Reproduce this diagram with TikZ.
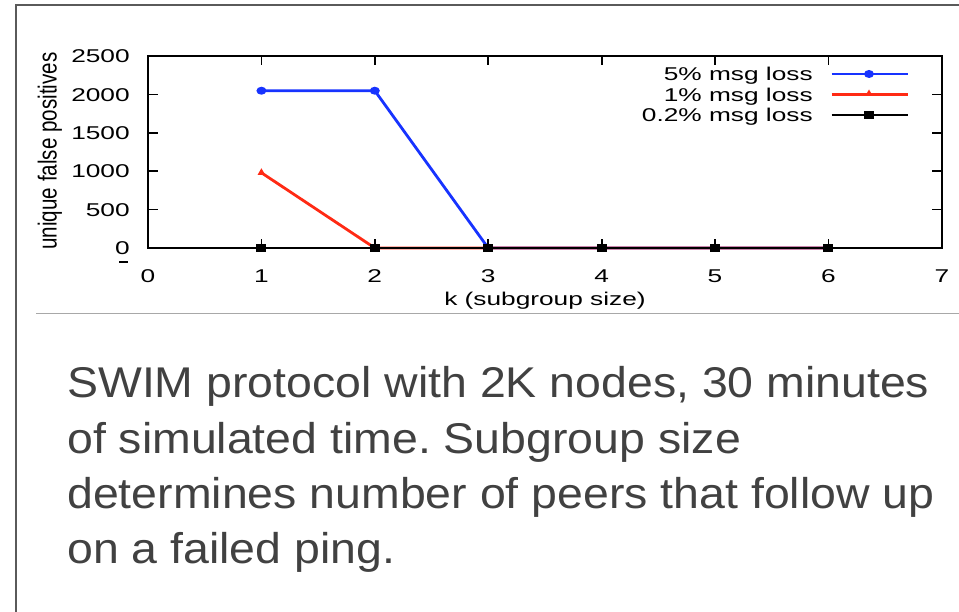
\documentclass[tikz,border=0pt]{standalone}
\usepackage{fontspec}
\setmainfont{Liberation Sans}
\usetikzlibrary{shapes.geometric}
\definecolor{framegray}{HTML}{5A5A5A}
\definecolor{rulegray}{HTML}{A8A8A8}
\definecolor{captiongray}{HTML}{414141}
\definecolor{serblue}{HTML}{1733FF}
\definecolor{serred}{HTML}{FF2A14}
\frenchspacing
\begin{document}
\begin{tikzpicture}[x=1pt,y=-1pt,
  plotlbl/.style={inner sep=0pt, font=\fontsize{18.5}{20}\selectfont, xscale=1.42},
  caplbl/.style={inner sep=0pt, anchor=base west, text=captiongray,
    font=\fontsize{43}{55}\selectfont, xscale=1.08},
  tickmark/.style={line width=1.8pt, black},
  bluedot/.style={ellipse, fill=serblue, inner sep=0pt, minimum width=10pt, minimum height=8pt},
  redtri/.style={regular polygon, regular polygon sides=3, fill=serred, inner sep=0pt, minimum size=9pt},
  blacksq/.style={rectangle, fill=black, inner sep=0pt, minimum width=10pt, minimum height=8pt},
  serline/.style={line width=2.8pt, line join=round}]
\useasboundingbox (0,0) rectangle (959,612);

% slide frame and separator rule
\draw[framegray, line width=2pt] (15.5,620) -- (15.5,5) -- (970,5);
\draw[rulegray, line width=1.5pt] (36,313.5) -- (970,313.5);

% plot frame
\coordinate (pNW) at (148,56);
\coordinate (pSE) at (941.8,248);
\draw[line width=2.2pt] (pNW) rectangle (pSE);

% inner tick marks
\foreach \v in {500,1000,1500,2000} {
  \draw[tickmark] (148,{248-0.0768*\v}) -- ++(10,0);
  \draw[tickmark] (941.8,{248-0.0768*\v}) -- ++(-10,0);
}
\foreach \k in {1,...,6} {
  \draw[tickmark] ({148+113.4*\k},56) -- ++(0,9);
  \draw[tickmark] ({148+113.4*\k},248) -- ++(0,-9);
}

% tick labels
\foreach \v in {0,500,1000,1500,2000,2500}
  \node[plotlbl, anchor=base east] (yl\v) at (130,{248-0.0768*\v+6.6}) {\v};
\foreach \k in {0,...,7}
  \node[plotlbl, anchor=base] (xl\k) at ({148+113.4*\k},283) {\k};
\draw[line width=1.6pt] (119,262) -- (128,262);

% axis titles
\node[plotlbl, anchor=base] (xtitle) at (545,306) {k (subgroup size)};
\node[inner sep=0pt, font=\fontsize{18}{20}\selectfont, rotate=90, xscale=1.145, yscale=1.45]
  (ytitle) at (50,151) {unique false positives};

% data series
\begin{scope}[shift={(148,248)}, x=113.4pt, y=0.0768pt]
  \draw[serline, serblue] (1,2048) -- (2,2048) -- (3,0) -- (4,0) -- (5,0) -- (6,0);
  \draw[serline, serred] (1,980) -- (2,0) -- (3,0) -- (4,0) -- (5,0) -- (6,0);
  \draw[serline, black, line width=2.4pt] (1,0) -- (6,0);
  \node[bluedot] (b1) at (1,2048) {};
  \node[bluedot] (b2) at (2,2048) {};
  \node[redtri] (r1) at (1,980) {};
  \foreach \k in {1,...,6}
    \node[blacksq] (k\k) at (\k,0) {};
\end{scope}

% legend
\node[plotlbl, anchor=base east] (lg1) at (813,81) {5\% msg loss};
\node[plotlbl, anchor=base east] (lg2) at (813,101.5) {1\% msg loss};
\node[plotlbl, anchor=base east] (lg3) at (813,122) {0.2\% msg loss};
\draw[serline, serblue] (831.7,74) -- (908,74);
\draw[serline, serred] (831.7,94.5) -- (908,94.5);
\draw[serline, black] (831.7,115) -- (908,115);
\node[bluedot] (lm1) at (869,74) {};
\node[redtri, minimum size=8pt] (lm2) at (869,93.5) {};
\node[blacksq] (lm3) at (869,115) {};

% caption
\node[caplbl] (cap1) at (67,398) {SWIM protocol with 2K nodes, 30 minutes};
\node[caplbl] (cap2) at (67,453) {of simulated time. Subgroup size};
\node[caplbl] (cap3) at (67,508) {determines number of peers that follow up};
\node[caplbl] (cap4) at (67,563) {on a failed ping.};
\end{tikzpicture}
\end{document}
